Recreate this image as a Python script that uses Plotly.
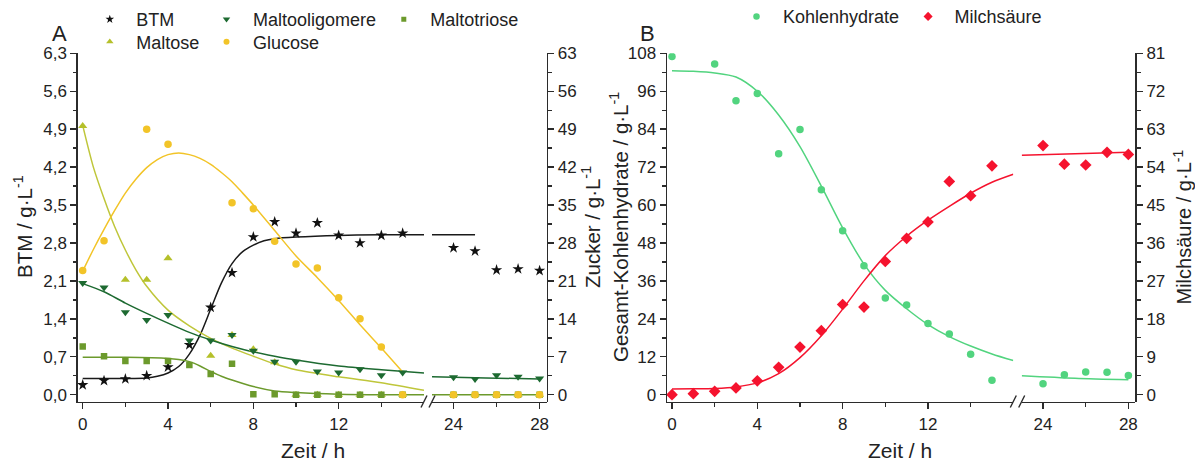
import plotly.graph_objects as go

W, H = 1195, 464
FONT = "Liberation Sans, Arial, sans-serif"
TXT = "#222222"
AXC = "#2b2b2b"

# ---------------- Panel A data ----------------
btm_t = [0, 1, 2, 3, 4, 5, 6, 7, 8, 9, 10, 11, 12, 13, 14, 15, 24, 25, 26, 27, 28]
btm = [0.18, 0.26, 0.29, 0.35, 0.51, 0.92, 1.61, 2.25, 2.91, 3.19, 2.98, 3.17, 2.94, 2.80, 2.94, 2.98,
       2.71, 2.65, 2.30, 2.32, 2.29]

oligo_t = [0, 1, 2, 3, 4, 5, 6, 7, 8, 9, 10, 11, 12, 13, 14, 15, 24, 25, 26, 27, 28]
oligo = [20.6, 19.8, 15.2, 13.8, 14.7, 10.0, 10.0, 11.0, 8.1, 6.1, 6.1, 4.3, 4.1, 4.7, 3.6, 4.1,
         3.2, 2.9, 3.6, 3.3, 3.0]

triose_t = [0, 1, 2, 3, 4, 5, 6, 7, 8, 9, 10, 11, 12, 13, 14, 15, 24, 25, 26, 27, 28]
triose = [8.9, 7.1, 6.2, 6.2, 6.2, 5.5, 3.8, 5.7, 0.1, 0.1, 0, 0, 0, 0, 0, 0, 0, 0, 0, 0, 0]

maltose_t = [0, 2, 3, 4, 6, 7, 8, 9, 10, 11, 12, 13, 14, 15, 24, 25, 26, 27, 28]
maltose = [49.6, 21.2, 21.2, 25.2, 7.2, 11.0, 8.4, 6.0, 0, 0, 0, 0, 0, 0, 0, 0, 0, 0, 0]

gluc_t = [0, 1, 3, 4, 7, 8, 9, 10, 11, 12, 13, 14, 15, 24, 25, 26, 27, 28]
gluc = [22.9, 28.4, 49.0, 46.2, 35.4, 34.3, 28.3, 24.1, 23.4, 17.9, 14.0, 8.8, 0, 0, 0, 0, 0, 0]

# fitted curves
btm_fit_t = [0, 1, 2, 3, 3.5, 4, 4.5, 5, 5.5, 6, 6.5, 7, 7.5, 8, 8.5, 9, 10, 12, 14, 16]
btm_fit = [0.30, 0.30, 0.30, 0.31, 0.34, 0.40, 0.52, 0.75, 1.10, 1.58, 2.06, 2.42, 2.64, 2.76, 2.84,
           2.88, 2.91, 2.94, 2.95, 2.95]
btm_fit2_t = [23, 25]
btm_fit2 = [2.95, 2.95]

oligo_fit_t = [0, 1, 2, 3, 4, 5, 6, 7, 8, 9, 10, 12, 14, 16]
oligo_fit = [20.5, 19.0, 16.9, 15.0, 13.2, 11.5, 10.1, 8.9, 7.9, 7.1, 6.4, 5.3, 4.6, 4.0]
oligo_fit2_t = [23, 25.5, 28]
oligo_fit2 = [3.3, 3.1, 2.9]

triose_fit_t = [0, 2, 4, 4.5, 5, 5.5, 6, 6.5, 7, 8, 9, 10, 12, 14, 16]
triose_fit = [6.9, 6.9, 6.7, 6.5, 6.1, 5.3, 4.3, 3.4, 2.7, 1.5, 0.7, 0.4, 0.1, 0, 0]
triose_fit2_t = [23, 28]
triose_fit2 = [0, 0]

maltose_fit_t = [0, 0.5, 1, 1.5, 2, 2.5, 3, 4, 5, 6, 7, 8, 9, 10, 12, 14, 16]
maltose_fit = [49.7, 42.0, 36.2, 31.0, 26.7, 23.0, 20.0, 15.6, 12.7, 10.4, 8.6, 7.1, 5.7, 4.6, 3.3, 2.2, 0.8]

gluc_fit_t = [0, 0.5, 1, 1.5, 2, 2.5, 3, 3.5, 4, 4.5, 5, 5.5, 6, 6.5, 7, 7.5, 8, 9, 10, 11, 12, 13, 14, 15]
gluc_fit = [22.8, 26.8, 30.5, 34.0, 37.2, 39.8, 41.9, 43.4, 44.3, 44.6, 44.3, 43.6, 42.5, 41.0, 39.3,
            37.2, 35.0, 30.3, 25.6, 21.6, 17.4, 12.9, 8.6, 4.2]

# ---------------- Panel B data ----------------
kh_t = [0, 2, 3, 4, 5, 6, 7, 8, 9, 10, 11, 12, 13, 14, 15, 24, 25, 26, 27, 28]
kh = [107.0, 104.6, 93.0, 95.3, 76.2, 83.9, 64.8, 51.9, 40.8, 30.6, 28.4, 22.5, 19.2, 12.8, 4.6,
      3.5, 6.3, 7.2, 7.1, 6.1]

ms_t = [0, 1, 2, 3, 4, 5, 6, 7, 8, 9, 10, 11, 12, 13, 14, 15, 24, 25, 26, 27, 28]
ms = [0, 0.24, 0.8, 1.6, 3.3, 6.5, 11.3, 15.2, 21.4, 20.8, 31.6, 37.1, 41.0, 50.6, 47.2, 54.3,
      59.1, 54.7, 54.5, 57.5, 57.0]

kh_fit_t = [0, 1, 2, 3, 4, 5, 6, 7, 8, 9, 10, 11, 12, 13, 14, 15, 16]
kh_fit = [102.5, 102.3, 101.8, 100.5, 96.0, 88.5, 78.5, 66.0, 52.8, 41.3, 33.0, 27.2, 22.2, 18.4, 15.4,
          12.9, 10.8]
kh_fit2_t = [23, 25.5, 28]
kh_fit2 = [6.0, 5.2, 4.7]

ms_fit_t = [0, 1, 2, 3, 4, 5, 6, 7, 8, 9, 10, 11, 12, 13, 14, 15, 16]
ms_fit = [1.35, 1.4, 1.5, 1.85, 2.8, 5.0, 8.8, 14.0, 20.3, 27.0, 33.0, 37.6, 41.4, 44.7, 47.8, 50.4, 52.3]
ms_fit2_t = [23, 28]
ms_fit2 = [56.8, 57.5]

# ticks
a_left_ticks = [0, 0.7, 1.4, 2.1, 2.8, 3.5, 4.2, 4.9, 5.6, 6.3]
a_left_text = ["0,0", "0,7", "1,4", "2,1", "2,8", "3,5", "4,2", "4,9", "5,6", "6,3"]
a_right_ticks = [0, 7, 14, 21, 28, 35, 42, 49, 56, 63]
b_left_ticks = [0, 12, 24, 36, 48, 60, 72, 84, 96, 108]
b_right_ticks = [0, 9, 18, 27, 36, 45, 54, 63, 72, 81]
x1_ticks = [0, 4, 8, 12]
x2_ticks = [24, 28]

# colours
C_BTM = "#111111"
C_OLIGO = "#1d6a31"
C_TRIOSE = "#6c9a2c"
C_MALTOSE = "#b5c02a"
C_MALTOSE_LINE = "#bfc63a"
C_GLUC = "#f2c428"
C_KH = "#52d47f"
C_MS = "#f5132e"


def px(x):
    return x / W


def py(y):
    return 1 - y / H


def split(t, v, lo, hi):
    tt, vv = [], []
    for a, b in zip(t, v):
        if lo <= a <= hi:
            tt.append(a)
            vv.append(b)
    return tt, vv


fig = go.Figure()


def add_points(t, v, name, color, symbol, size, xa1, xa2, ya):
    t1, v1 = split(t, v, -1, 17)
    t2, v2 = split(t, v, 22, 30)
    fig.add_trace(go.Scatter(x=t1, y=v1, mode="markers", name=name, xaxis=xa1, yaxis=ya,
                             marker=dict(symbol=symbol, size=size, color=color, line=dict(width=0)),
                             showlegend=False))
    if t2:
        fig.add_trace(go.Scatter(x=t2, y=v2, mode="markers", name=name, xaxis=xa2, yaxis=ya,
                                 marker=dict(symbol=symbol, size=size, color=color, line=dict(width=0)),
                                 showlegend=False))


def add_legend_entry(name, color, symbol, size, xa, ya, legend):
    fig.add_trace(go.Scatter(x=[None], y=[None], mode="markers", name=name, xaxis=xa, yaxis=ya,
                             marker=dict(symbol=symbol, size=size, color=color, line=dict(width=0)),
                             legend=legend, showlegend=True))


def add_line(t, v, color, xa, ya, width=1.5):
    fig.add_trace(go.Scatter(x=t, y=v, mode="lines", xaxis=xa, yaxis=ya, showlegend=False,
                             line=dict(color=color, width=width, shape="spline", smoothing=0.8),
                             hoverinfo="skip"))


# Panel A fits
add_line(maltose_fit_t, maltose_fit, C_MALTOSE_LINE, "x", "y2")
add_line(triose_fit_t, triose_fit, C_TRIOSE, "x", "y2")
add_line(triose_fit2_t, triose_fit2, C_TRIOSE, "x2", "y2")
add_line(oligo_fit_t, oligo_fit, C_OLIGO, "x", "y2")
add_line(oligo_fit2_t, oligo_fit2, C_OLIGO, "x2", "y2")
add_line(gluc_fit_t, gluc_fit, C_GLUC, "x", "y2")
add_line(btm_fit_t, btm_fit, "#1a1a1a", "x", "y")
add_line(btm_fit2_t, btm_fit2, "#1a1a1a", "x2", "y")

# Panel A points
add_points(maltose_t, maltose, "Maltose", C_MALTOSE, "triangle-up", 8, "x", "x2", "y2")
add_points(triose_t, triose, "Maltotriose", C_TRIOSE, "square", 6.5, "x", "x2", "y2")
add_points(oligo_t, oligo, "Maltooligomere", C_OLIGO, "triangle-down", 8, "x", "x2", "y2")
add_points(gluc_t, gluc, "Glucose", C_GLUC, "circle", 7.5, "x", "x2", "y2")
add_points(btm_t, btm, "BTM", C_BTM, "star", 8.5, "x", "x2", "y")

# Panel B
add_line(kh_fit_t, kh_fit, C_KH, "x3", "y3")
add_line(kh_fit2_t, kh_fit2, C_KH, "x4", "y3")
add_line(ms_fit_t, ms_fit, C_MS, "x3", "y4")
add_line(ms_fit2_t, ms_fit2, C_MS, "x4", "y4")
add_points(kh_t, kh, "Kohlenhydrate", C_KH, "circle", 7.5, "x3", "x4", "y3")
add_points(ms_t, ms, "Milchsäure", C_MS, "diamond", 9, "x3", "x4", "y4")

# legend entries (small symbols, as in the original legend)
add_legend_entry("BTM", C_BTM, "star", 6.5, "x", "y", "legend")
add_legend_entry("Maltooligomere", C_OLIGO, "triangle-down", 6.5, "x", "y2", "legend2")
add_legend_entry("Maltotriose", C_TRIOSE, "square", 5, "x", "y2", "legend3")
add_legend_entry("Maltose", C_MALTOSE, "triangle-up", 6.5, "x", "y2", "legend4")
add_legend_entry("Glucose", C_GLUC, "circle", 6, "x", "y2", "legend5")
add_legend_entry("Kohlenhydrate", C_KH, "circle", 6.5, "x3", "y3", "legend6")
add_legend_entry("Milchsäure", C_MS, "diamond", 7, "x3", "y4", "legend7")

ydom = [py(401.7), py(53.3)]

xcommon = dict(showline=True, linecolor=AXC, linewidth=1.6, ticks="outside", ticklen=6, tickwidth=1.4,
               tickcolor=AXC, showgrid=False, zeroline=False, mirror=False,
               tickfont=dict(family=FONT, size=17, color=TXT), fixedrange=True)
ycommon = dict(showline=True, linecolor=AXC, linewidth=1.6, ticks="outside", ticklen=6, tickwidth=1.4,
               tickcolor=AXC, showgrid=False, zeroline=False, mirror=False, domain=ydom,
               tickfont=dict(family=FONT, size=17, color=TXT), fixedrange=True)


def minor_vals(ticks):
    return [(a + b) / 2 for a, b in zip(ticks[:-1], ticks[1:])]


layout = dict(
    width=W, height=H, autosize=False,
    margin=dict(l=0, r=0, t=0, b=0, pad=0, autoexpand=False),
    paper_bgcolor="white", plot_bgcolor="white",
    font=dict(family=FONT, color=TXT),
    xaxis=dict(xcommon, domain=[px(76.3), px(424)], range=[-0.3, 16.0], anchor="y",
               tickvals=x1_ticks, ticktext=[str(v) for v in x1_ticks],
               minor=dict(tickvals=[2, 6, 10, 14], ticklen=3.5, ticks="outside", tickcolor=AXC)),
    xaxis2=dict(xcommon, domain=[px(432), px(546.7)], range=[23, 28.33], anchor="y",
                tickvals=x2_ticks, ticktext=[str(v) for v in x2_ticks],
                minor=dict(tickvals=[26], ticklen=3.5, ticks="outside", tickcolor=AXC)),
    yaxis=dict(ycommon, range=[-0.129, 6.3], anchor="free", position=px(76.3), side="left",
               tickvals=a_left_ticks, ticktext=a_left_text,
               minor=dict(tickvals=minor_vals(a_left_ticks), ticklen=3.5, ticks="outside", tickcolor=AXC)),
    yaxis2=dict(ycommon, range=[-1.29, 63], anchor="free", position=px(546.7), side="right",
                overlaying="y", tickvals=a_right_ticks, ticktext=[str(v) for v in a_right_ticks],
                minor=dict(tickvals=minor_vals(a_right_ticks), ticklen=3.5, ticks="outside", tickcolor=AXC)),
    xaxis3=dict(xcommon, domain=[px(665.6), px(1013.3)], range=[-0.3, 16.0], anchor="y3",
                tickvals=x1_ticks, ticktext=[str(v) for v in x1_ticks],
                minor=dict(tickvals=[2, 6, 10, 14], ticklen=3.5, ticks="outside", tickcolor=AXC)),
    xaxis4=dict(xcommon, domain=[px(1021.7), px(1135.4)], range=[23, 28.33], anchor="y3",
                tickvals=x2_ticks, ticktext=[str(v) for v in x2_ticks],
                minor=dict(tickvals=[26], ticklen=3.5, ticks="outside", tickcolor=AXC)),
    yaxis3=dict(ycommon, range=[-2.21, 108], anchor="free", position=px(665.6), side="left",
                tickvals=b_left_ticks, ticktext=[str(v) for v in b_left_ticks],
                minor=dict(tickvals=minor_vals(b_left_ticks), ticklen=3.5, ticks="outside", tickcolor=AXC)),
    yaxis4=dict(ycommon, range=[-1.66, 81], anchor="free", position=px(1135.4), side="right",
                overlaying="y3", tickvals=b_right_ticks, ticktext=[str(v) for v in b_right_ticks],
                minor=dict(tickvals=minor_vals(b_right_ticks), ticklen=3.5, ticks="outside", tickcolor=AXC)),
)

# legends: one per entry, placed like the original
legend_pos = {
    "legend": (110, 19.5),
    "legend2": (226.7, 19.5),
    "legend3": (404, 19.5),
    "legend4": (110, 42),
    "legend5": (226.7, 42),
    "legend6": (756.7, 16.7),
    "legend7": (928.3, 16.7),
}
for key, (mx, my) in legend_pos.items():
    layout[key] = dict(x=px(mx - 26.7), y=py(my), xanchor="left", yanchor="middle",
                       orientation="h", itemwidth=43, bgcolor="rgba(0,0,0,0)", borderwidth=0,
                       font=dict(family=FONT, size=18, color=TXT), itemclick=False, itemdoubleclick=False)

fig.update_layout(**layout)

ann = []


def add_text(text, x, y, size, angle=0):
    ann.append(dict(text=text, x=px(x), y=py(y), xref="paper", yref="paper", showarrow=False,
                    xanchor="center", yanchor="middle", textangle=angle,
                    font=dict(family=FONT, size=size, color=TXT)))


add_text("A", 59, 33.5, 22)
add_text("B", 647, 33.5, 22)
add_text("Zeit / h", 313, 450, 21)
add_text("Zeit / h", 900, 450, 21)
add_text("BTM / g·L<sup>-1</sup>", 23, 227, 20.5, -90)
add_text("Zucker / g·L<sup>-1</sup>", 591, 227, 20.5, -90)
add_text("Gesamt-Kohlenhydrate / g·L<sup>-1</sup>", 619, 227, 20.5, -90)
add_text("Milchsäure / g·L<sup>-1</sup>", 1181.5, 227, 20, -90)
fig.update_layout(annotations=ann)

# axis break marks
shapes = []
for cx in [424, 432, 1013.3, 1021.7]:
    shapes.append(dict(type="line", xref="paper", yref="paper", x0=px(cx - 3), y0=py(407.5),
                       x1=px(cx + 3), y1=py(395.5), line=dict(color=AXC, width=1.4)))
fig.update_layout(shapes=shapes)

fig.write_html("out.html", include_plotlyjs=True, config={"displayModeBar": False, "staticPlot": True})
